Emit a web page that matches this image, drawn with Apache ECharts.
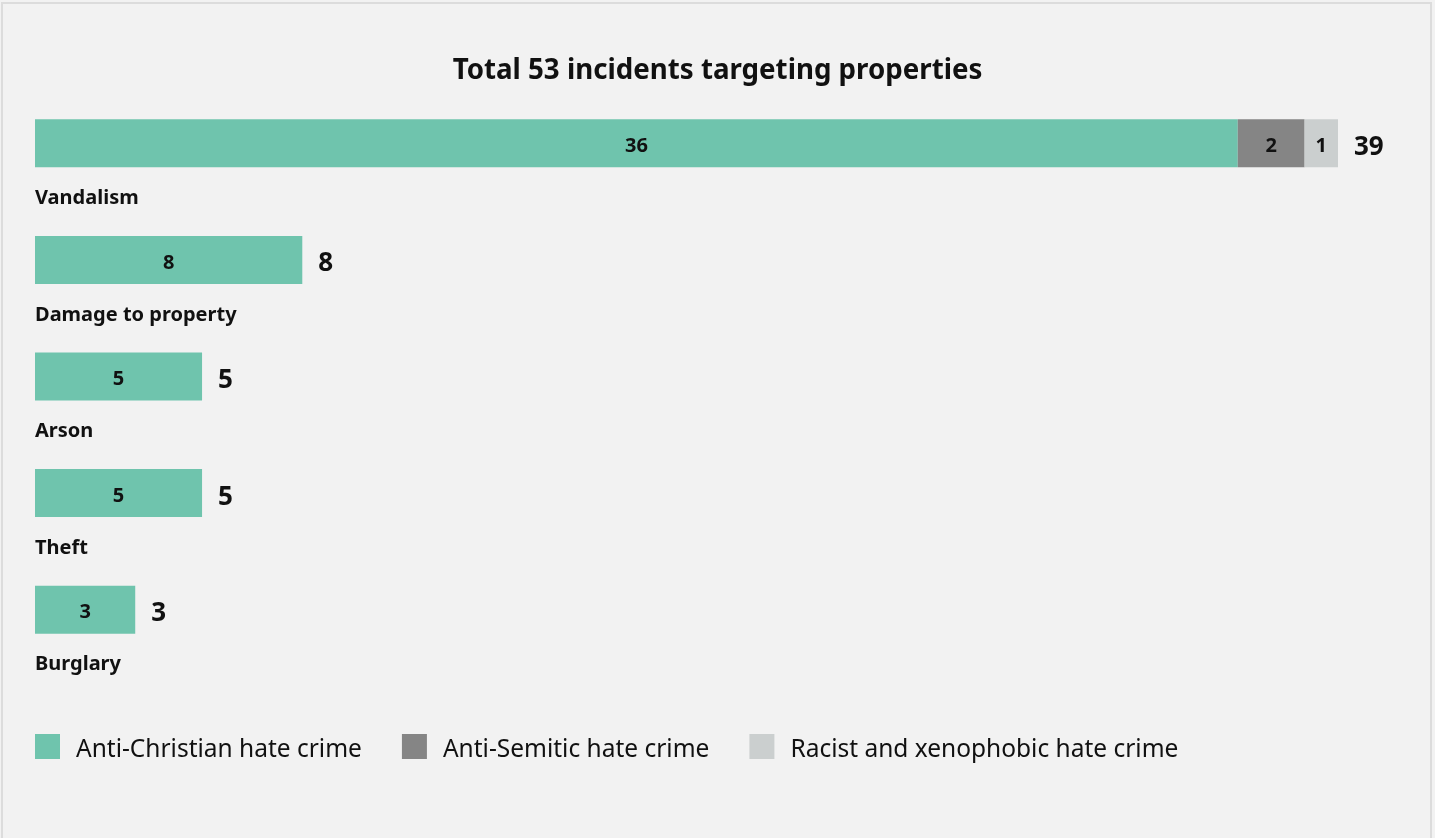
<!DOCTYPE html>
<html>
<head>
<meta charset="utf-8">
<script src="https://cdn.jsdelivr.net/npm/echarts@6/dist/echarts.min.js"></script>
<style>
html,body{margin:0;padding:0;background:#f2f2f2;width:1435px;height:838px;overflow:hidden;}
#frame{position:absolute;left:1px;top:2px;width:1431px;height:900px;border:2px solid #dcdcdc;box-sizing:border-box;}
#chart{position:absolute;left:0;top:0;width:1435px;height:838px;}
</style>
</head>
<body>
<div id="frame"></div>
<div id="chart"></div>
<script>
const categories = ['Vandalism', 'Damage to property', 'Arson', 'Theft', 'Burglary'];
const antiChristian = [36, 8, 5, 5, 3];
const antiSemitic = [2, 0, 0, 0, 0];
const racist = [1, 0, 0, 0, 0];
const totals = [39, 8, 5, 5, 3];
const seriesNames = ['Anti-Christian hate crime', 'Anti-Semitic hate crime', 'Racist and xenophobic hate crime'];
const titleText = 'Total 53 incidents targeting properties';

const FONT = '"Noto Sans", sans-serif';
const chart = echarts.init(document.getElementById('chart'));
const innerLabel = {
  show: true, position: 'inside', color: '#111', fontWeight: 'bold',
  fontSize: 20, fontFamily: FONT, offset: [0, 3],
  formatter: p => (p.value ? String(p.value) : '')
};
chart.setOption({
  backgroundColor: 'transparent',
  animation: false,
  title: {
    text: titleText, left: 'center', top: 52,
    textStyle: {fontFamily: FONT, fontWeight: 'bold', fontSize: 27.7, color: '#111'}
  },
  legend: {
    left: 35, top: 734, padding: 0, itemWidth: 25, itemHeight: 25, itemGap: 40, icon: 'rect',
    formatter: name => '{t|' + name + '}',
    textStyle: {
      fontFamily: FONT, fontSize: 24.5, color: '#111', padding: [0, 0, 0, 11],
      rich: {t: {fontFamily: FONT, fontSize: 24.5, color: '#111', padding: [8, 0, 0, 0]}}
    },
    data: seriesNames
  },
  grid: {left: 35, top: 85, width: 1303, height: 583, containLabel: false},
  xAxis: {type: 'value', min: 0, max: 39, show: false},
  yAxis: {
    type: 'category', data: categories, inverse: true,
    axisLine: {show: false}, axisTick: {show: false}, splitLine: {show: false},
    axisLabel: {
      inside: true, margin: 0, align: 'left', verticalAlign: 'top',
      padding: [45, 0, 0, 0],
      fontFamily: FONT, fontWeight: 'bold', fontSize: 20, color: '#111'
    }
  },
  series: [
    {name: seriesNames[0], type: 'bar', stack: 's', data: antiChristian, barWidth: 48,
     itemStyle: {color: '#6fc4ad'}, label: innerLabel},
    {name: seriesNames[1], type: 'bar', stack: 's', data: antiSemitic, barWidth: 48,
     itemStyle: {color: '#858585'}, label: innerLabel},
    {name: seriesNames[2], type: 'bar', stack: 's', data: racist, barWidth: 48,
     itemStyle: {color: '#cbcfcf'}, label: innerLabel},
    {name: 'total', type: 'bar', stack: 's', data: totals.map(() => 0), barWidth: 48,
     itemStyle: {color: 'transparent'},
     label: {show: true, position: 'right', distance: 16, offset: [0, 4], color: '#111', fontWeight: 'bold',
             fontSize: 26, fontFamily: FONT, formatter: p => String(totals[p.dataIndex])}}
  ]
});
</script>
</body>
</html>
